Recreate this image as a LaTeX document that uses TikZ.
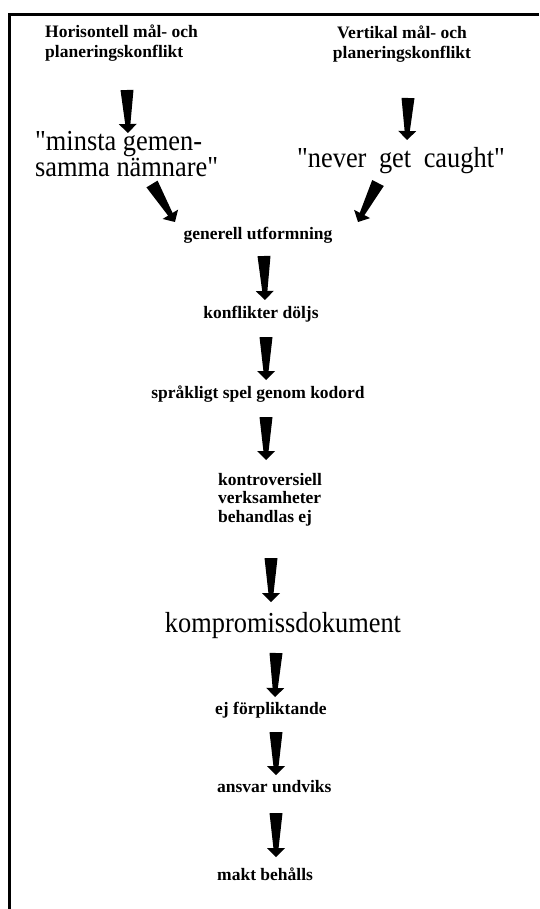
\documentclass[tikz,border=0pt]{standalone}
\usepackage{fontspec}
\setmainfont{Liberation Serif}
\newfontfamily\bigserif{Liberation Serif}[FakeStretch=0.91]
\usetikzlibrary{calc}

% Tapered block arrow from one named point to another
\newcommand\fatarrow[2]{%
  \path let \p1=($(#2)-(#1)$), \n1={atan2(\y1,\x1)}, \n2={veclen(\x1,\y1)} in
    \pgfextra{\xdef\fatang{\n1}\xdef\fatlen{\n2}};
  \fill[shift={(#1)}, rotate=\fatang]
    (0,6.5) -- ({\fatlen-9},2.6) -- ({\fatlen-9},9) -- (\fatlen,0)
    -- ({\fatlen-9},-9) -- ({\fatlen-9},-2.6) -- (0,-6.5) -- cycle;
}
\newcommand\qq{\symbol{34}}

\begin{document}
\begin{tikzpicture}[x=1pt, y=1pt,
  small/.style={inner sep=0pt, font=\fontsize{17.5}{20}\selectfont\bfseries},
  large/.style={inner sep=0pt, font=\fontsize{29}{25}\selectfont\bigserif},
]
\useasboundingbox (0,0) rectangle (539,-909);

% frame on the top and left edges
\draw[line width=3pt] (539,-15) -- (9.5,-15) -- (9.5,-909);

% text (multi-line nodes are placed by their last baseline)
\node[small, anchor=base west, align=left] (hor) at (45,-58) {Horisontell mål- och\\planeringskonflikt};
\node[small, anchor=base, align=center] (ver) at (402,-59) {Vertikal mål- och\\planeringskonflikt};
\node[large, anchor=base west, align=left] (min) at (35,-177) {\qq minsta gemen-\\samma nämnare\qq};
\node[large, anchor=base] (nev) at (401,-168) {\spaceskip=12.5pt\relax\qq never get caught\qq};
\node[small, anchor=base] (gen) at (258,-240) {generell utformning};
\node[small, anchor=base] (kon) at (261,-318) {konflikter döljs};
\node[small, anchor=base] (spr) at (258,-398) {språkligt spel genom kodord};
\node[small, anchor=base west, align=left, font=\fontsize{17.5}{18.5}\selectfont\bfseries] (kont) at (218,-522) {kontroversiell\\verksamheter\\behandlas ej};
\node[large, anchor=base] (komp) at (283,-632) {kompromissdokument};
\node[small, anchor=base west] (ej) at (215,-714) {ej förpliktande};
\node[small, anchor=base west] (ans) at (217,-792) {ansvar undviks};
\node[small, anchor=base west] (makt) at (217,-880) {makt behålls};

% arrow end points
\coordinate (a1s) at (127,-90);  \coordinate (a1e) at (128,-133);
\coordinate (a2s) at (408,-98);  \coordinate (a2e) at (407,-140);
\coordinate (a3s) at (152,-184); \coordinate (a3e) at (175,-222);
\coordinate (a4s) at (378,-183); \coordinate (a4e) at (358,-222);
\coordinate (a5s) at (264,-256); \coordinate (a5e) at (265,-300);
\coordinate (a6s) at (266,-337); \coordinate (a6e) at (266,-380);
\coordinate (a7s) at (266,-417); \coordinate (a7e) at (266,-460);
\coordinate (a8s) at (271,-558); \coordinate (a8e) at (271,-602);
\coordinate (a9s) at (276,-653); \coordinate (a9e) at (275,-697);
\coordinate (a10s) at (276,-732); \coordinate (a10e) at (276,-775);
\coordinate (a11s) at (276,-813); \coordinate (a11e) at (276,-857);

\fatarrow{a1s}{a1e}
\fatarrow{a2s}{a2e}
\fatarrow{a3s}{a3e}
\fatarrow{a4s}{a4e}
\fatarrow{a5s}{a5e}
\fatarrow{a6s}{a6e}
\fatarrow{a7s}{a7e}
\fatarrow{a8s}{a8e}
\fatarrow{a9s}{a9e}
\fatarrow{a10s}{a10e}
\fatarrow{a11s}{a11e}
\end{tikzpicture}
\end{document}
